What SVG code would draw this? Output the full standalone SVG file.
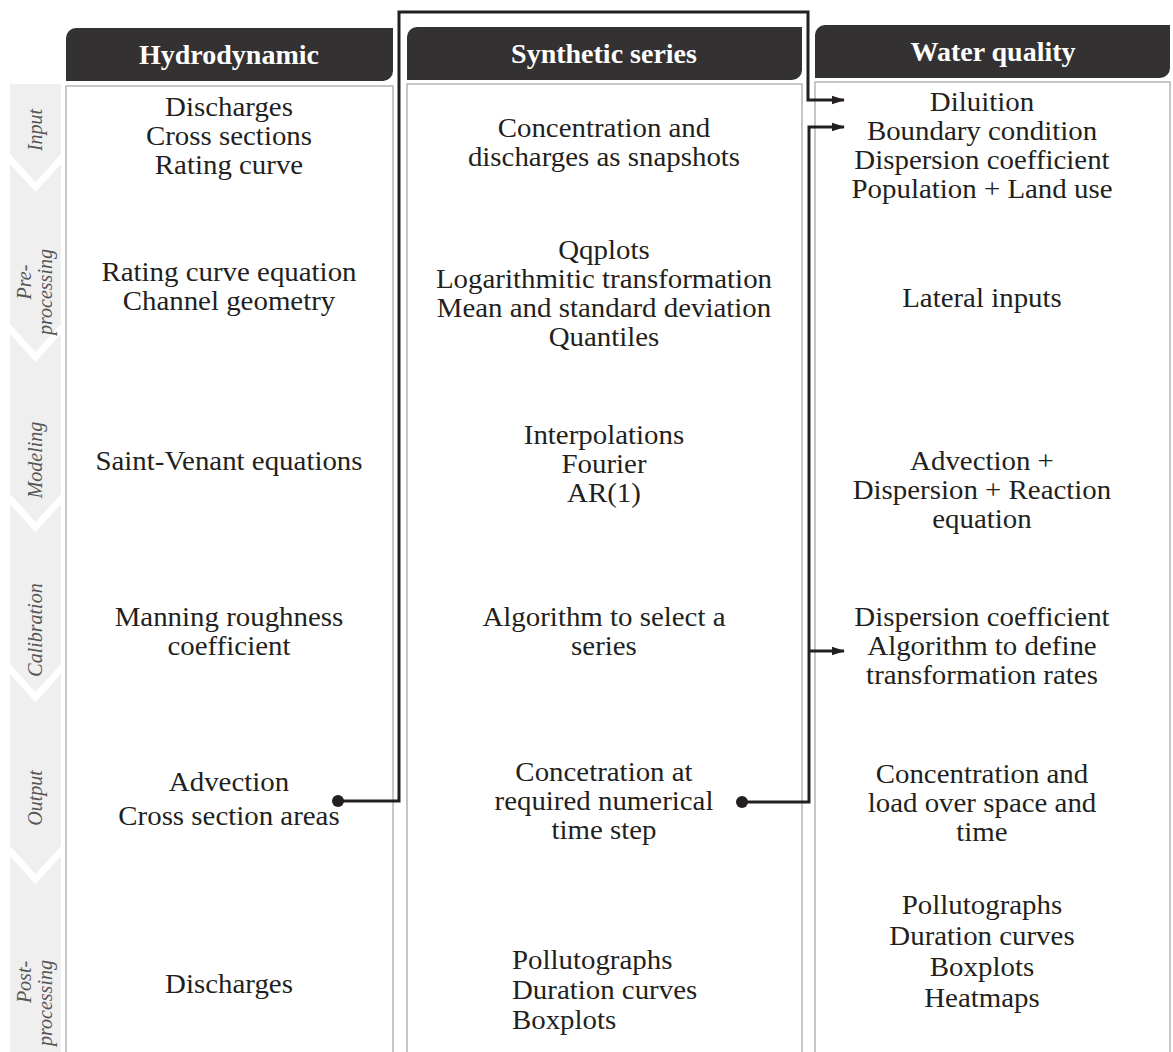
<svg xmlns="http://www.w3.org/2000/svg" width="1173" height="1052" viewBox="0 0 1173 1052">
  <style>
    .hdr { fill: #333132; }
    .hdr-t { font-family: "Liberation Serif", serif; font-weight: bold; font-size: 28px; fill: #ffffff; text-anchor: middle; }
    .box { fill: #ffffff; stroke: #b4b4b4; stroke-width: 1.5; }
    .t { font-family: "Liberation Serif", serif; font-size: 27px; fill: #231f20; text-anchor: middle; }
    .tl { font-family: "Liberation Serif", serif; font-size: 27px; fill: #231f20; }
    .chev { fill: #efefef; }
    .stage { font-family: "Liberation Serif", serif; font-style: italic; font-size: 20px; fill: #555555; text-anchor: middle; }
    .wire { fill: none; stroke: #231f20; stroke-width: 3; }
    .dot { fill: #231f20; }
  </style>
  <defs>
    <marker id="arr" markerWidth="13" markerHeight="10" refX="12" refY="5" orient="auto" markerUnits="userSpaceOnUse">
      <path d="M0,0.8 L13,5 L0,9.2 Z" fill="#231f20"/>
    </marker>
  </defs>

  <rect width="1173" height="1052" fill="#ffffff"/>

  <!-- stage chevrons on the left -->
  <g id="stages">
    <g id="stage-input">
      <path class="chev" d="M10,84 H61 V154 L35.5,182 L10,154 Z"/>
      <text class="stage" transform="translate(42,130) rotate(-90)">Input</text>
    </g>
    <g id="stage-preprocessing">
      <path class="chev" d="M10,164 L35.5,192 L61,164 V324 L35.5,352 L10,324 Z"/>
      <text class="stage" transform="translate(31,282) rotate(-90)">Pre-</text>
      <text class="stage" transform="translate(52,292) rotate(-90)">processing</text>
    </g>
    <g id="stage-modeling">
      <path class="chev" d="M10,334 L35.5,362 L61,334 V494 L35.5,522 L10,494 Z"/>
      <text class="stage" transform="translate(42,460) rotate(-90)">Modeling</text>
    </g>
    <g id="stage-calibration">
      <path class="chev" d="M10,504 L35.5,532 L61,504 V664 L35.5,692 L10,664 Z"/>
      <text class="stage" transform="translate(42,630) rotate(-90)">Calibration</text>
    </g>
    <g id="stage-output">
      <path class="chev" d="M10,674 L35.5,702 L61,674 V846 L35.5,874 L10,846 Z"/>
      <text class="stage" transform="translate(42,798) rotate(-90)">Output</text>
    </g>
    <g id="stage-postprocessing">
      <path class="chev" d="M10,856 L35.5,884 L61,856 V1052 H10 Z"/>
      <text class="stage" transform="translate(31,982) rotate(-90)">Post-</text>
      <text class="stage" transform="translate(52,1003) rotate(-90)">processing</text>
    </g>
  </g>

  <!-- Hydrodynamic column -->
  <g id="col-hydrodynamic">
    <path class="hdr" d="M76,28 H393 V71 A10,10 0 0 1 383,81 H66 V38 A10,10 0 0 1 76,28 Z"/>
    <text class="hdr-t" x="229" y="64">Hydrodynamic</text>
    <rect class="box" x="66" y="86" width="327" height="980"/>
    <!-- body text widened slightly around the column centre -->
    <g transform="matrix(1.07 0 0 1 -16.03 0)">
      <text class="t" x="229" y="116">Discharges</text>
      <text class="t" x="229" y="145">Cross sections</text>
      <text class="t" x="229" y="174">Rating curve</text>
      <text class="t" x="229" y="281">Rating curve equation</text>
      <text class="t" x="229" y="310">Channel geometry</text>
      <text class="t" x="229" y="470">Saint-Venant equations</text>
      <text class="t" x="229" y="626">Manning roughness</text>
      <text class="t" x="229" y="655">coefficient</text>
      <text class="t" x="229" y="791">Advection</text>
      <text class="t" x="229" y="825">Cross section areas</text>
      <text class="t" x="229" y="993">Discharges</text>
    </g>
  </g>

  <!-- Synthetic series column -->
  <g id="col-synthetic">
    <path class="hdr" d="M417,27 H802 V70 A10,10 0 0 1 792,80 H407 V37 A10,10 0 0 1 417,27 Z"/>
    <text class="hdr-t" x="604" y="63">Synthetic series</text>
    <rect class="box" x="407" y="84" width="395" height="980"/>
    <g transform="matrix(1.07 0 0 1 -42.28 0)">
      <text class="t" x="604" y="137">Concentration and</text>
      <text class="t" x="604" y="166">discharges as snapshots</text>
      <text class="t" x="604" y="259">Qqplots</text>
      <text class="t" x="604" y="288">Logarithmitic transformation</text>
      <text class="t" x="604" y="317">Mean and standard deviation</text>
      <text class="t" x="604" y="346">Quantiles</text>
      <text class="t" x="604" y="444">Interpolations</text>
      <text class="t" x="604" y="473">Fourier</text>
      <text class="t" x="604" y="502">AR(1)</text>
      <text class="t" x="604" y="626">Algorithm to select a</text>
      <text class="t" x="604" y="655">series</text>
      <text class="t" x="604" y="781">Concetration at</text>
      <text class="t" x="604" y="810">required numerical</text>
      <text class="t" x="604" y="839">time step</text>
      <text class="tl" x="518" y="969">Pollutographs</text>
      <text class="tl" x="518" y="999">Duration curves</text>
      <text class="tl" x="518" y="1029">Boxplots</text>
    </g>
  </g>

  <!-- Water quality column -->
  <g id="col-water-quality">
    <path class="hdr" d="M825,25 H1170 V68 A10,10 0 0 1 1160,78 H815 V35 A10,10 0 0 1 825,25 Z"/>
    <text class="hdr-t" x="993" y="61">Water quality</text>
    <rect class="box" x="815" y="82" width="355" height="980"/>
    <g transform="matrix(1.07 0 0 1 -68.74 0)">
      <text class="t" x="982" y="111">Diluition</text>
      <text class="t" x="982" y="140">Boundary condition</text>
      <text class="t" x="982" y="169">Dispersion coefficient</text>
      <text class="t" x="982" y="198">Population + Land use</text>
      <text class="t" x="982" y="307">Lateral inputs</text>
      <text class="t" x="982" y="470">Advection +</text>
      <text class="t" x="982" y="499">Dispersion + Reaction</text>
      <text class="t" x="982" y="528">equation</text>
      <text class="t" x="982" y="626">Dispersion coefficient</text>
      <text class="t" x="982" y="655">Algorithm to define</text>
      <text class="t" x="982" y="684">transformation rates</text>
      <text class="t" x="982" y="783">Concentration and</text>
      <text class="t" x="982" y="812">load over space and</text>
      <text class="t" x="982" y="841">time</text>
      <text class="t" x="982" y="914">Pollutographs</text>
      <text class="t" x="982" y="945">Duration curves</text>
      <text class="t" x="982" y="976">Boxplots</text>
      <text class="t" x="982" y="1007">Heatmaps</text>
    </g>
  </g>

  <!-- connectors -->
  <g id="connectors">
    <path class="wire" d="M338,801 H399 V12 H808 V100 H844" marker-end="url(#arr)"/>
    <path class="wire" d="M742,802 H809 V127 H844" marker-end="url(#arr)"/>
    <path class="wire" d="M809,651 H844" marker-end="url(#arr)"/>
    <circle class="dot" cx="338" cy="801" r="6"/>
    <circle class="dot" cx="742" cy="802" r="6"/>
  </g>
</svg>
